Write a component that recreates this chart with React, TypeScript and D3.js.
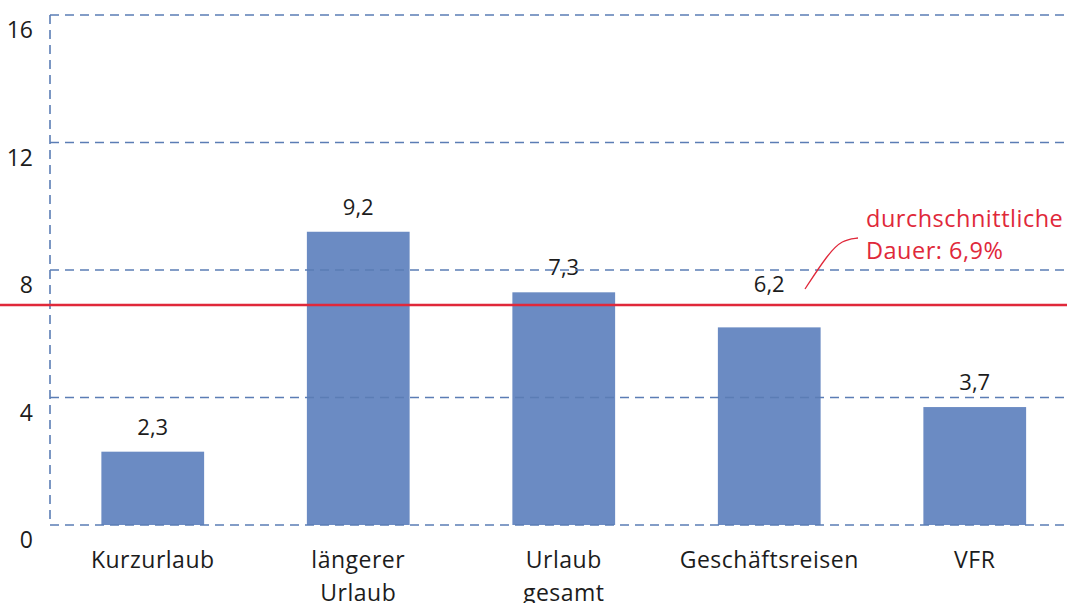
import React from 'react';
import * as d3 from 'd3';

const categories = ['Kurzurlaub', 'längerer\nUrlaub', 'Urlaub\ngesamt', 'Geschäftsreisen', 'VFR'];
const values = [2.3, 9.2, 7.3, 6.2, 3.7];
const valueLabels = ['2,3', '9,2', '7,3', '6,2', '3,7'];
// the 6,2 label sits higher in the original so it clears the average line
const labelLift = [0, 0, 0, 18, 0];
const yTicks = [0, 4, 8, 12, 16];
const average = 6.9;
const averageLabel = ['durchschnittliche', 'Dauer: 6,9%'];

const W = 1067;
const H = 603;
const FONT = '"Open Sans", "Noto Sans", sans-serif';
const INK = '#1c1c1c';
const RED = '#e0283a';
const GRID = '#5b7db5';

export default function App() {
  const x = d3.scaleBand<string>()
    .domain(categories)
    .range([50, 1077.5])
    .paddingInner(0.5)
    .paddingOuter(0.25);
  const y = d3.scaleLinear().domain([0, 16]).range([525, 15]);
  const avgY = y(average);

  const leader = d3.line<[number, number]>().curve(d3.curveBasis)([
    [805, 289],
    [828, 254],
    [842, 240],
    [858, 238],
  ]);

  return (
    <svg width={W} height={H} style={{ position: 'absolute', left: 0, top: 0 }} fontFamily={FONT}>
      <rect width={W} height={H} fill="#fff" />
      {values.map((v, i) => {
        const c = categories[i];
        return (
          <rect key={c} x={x(c)} y={y(v)} width={x.bandwidth()} height={y(0) - y(v)} fill="#6b8bc3" />
        );
      })}
      {values.map((v, i) => (
        <text key={i} x={(x(categories[i]) ?? 0) + x.bandwidth() / 2} y={y(v) - 17 - labelLift[i]}
          textAnchor="middle" fontSize={22} fill={INK}>
          {valueLabels[i]}
        </text>
      ))}
      {yTicks.map((t) => (
        <line key={t} x1={50} x2={W} y1={y(t)} y2={y(t)} stroke={GRID} strokeWidth={1.6} strokeDasharray="9,6" />
      ))}
      <line x1={50} x2={50} y1={y(16)} y2={y(0)} stroke={GRID} strokeWidth={1.6} strokeDasharray="9,6" />
      {yTicks.map((t) => (
        <text key={t} x={33} y={y(t) + 23} textAnchor="end" fontSize={23} fill={INK}>{t}</text>
      ))}
      {categories.map((c) => {
        const lines = c.split('\n');
        const cx = (x(c) ?? 0) + x.bandwidth() / 2;
        return (
          <text key={c} x={cx} textAnchor="middle" fontSize={23} letterSpacing={0.5} fill={INK}>
            {lines.map((l, j) => (
              <tspan key={j} x={cx} y={568 + j * 33}>{l}</tspan>
            ))}
          </text>
        );
      })}
      <line x1={0} x2={W} y1={avgY} y2={avgY} stroke={RED} strokeWidth={2.5} />
      <path d={leader ?? ''} fill="none" stroke={RED} strokeWidth={1.3} />
      {averageLabel.map((l, j) => (
        <text key={j} x={866} y={227 + j * 32} fontSize={23.5} letterSpacing={0.5} fill={RED}>{l}</text>
      ))}
    </svg>
  );
}
